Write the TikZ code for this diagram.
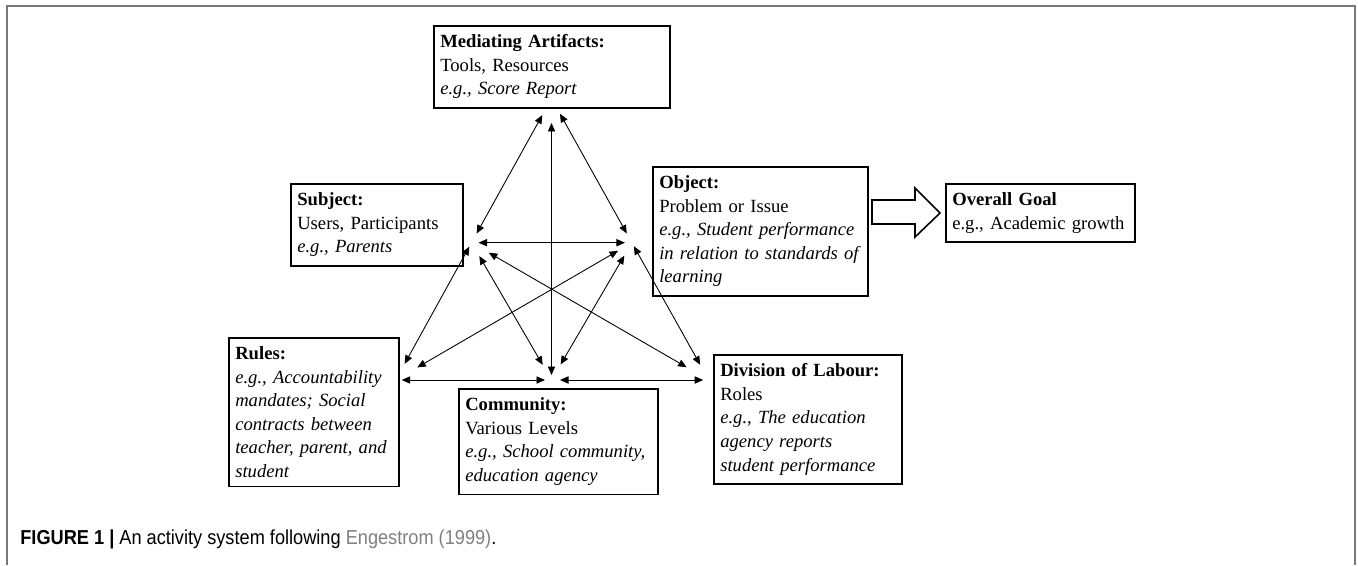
\documentclass[tikz,border=0pt]{standalone}
\usepackage{fontspec}
\setmainfont{Liberation Serif}
\newfontfamily\capfont[FakeStretch=0.9]{Liberation Sans}
\usepackage{xcolor}
\usepackage{tikz}
\usetikzlibrary{arrows.meta, calc}

\definecolor{framegray}{RGB}{120,120,120}
\definecolor{linkgray}{RGB}{128,128,128}

\tikzset{
  box/.style={draw, line width=0.9pt, align=left, anchor=north west,
    inner xsep=1.3mm, inner ysep=1.8mm, font=\fontsize{10.6}{13.4}\selectfont},
  link/.style={<->, line width=0.5pt},
}

\begin{document}
\begin{tikzpicture}[x=0.02cm, y=-0.02cm, >={Triangle[length=1.7mm, width=1.45mm]}]
    \useasboundingbox (0,0) rectangle (1358,565);
    \draw[framegray, line width=1.2pt] (7,565) -- (7,6) -- (1355,6) -- (1355,565);

    % boxes
    \node[box, text width=44.6mm] (med) at (433,25)
        {\textbf{Mediating Artifacts:}\\ Tools, Resources\\ \textit{e.g., Score Report}};
    \node[box, text width=31.8mm] (sub) at (290,183)
        {\textbf{Subject:}\\ Users, Participants\\ \textit{e.g., Parents}};
    \node[box, text width=40.4mm] (obj) at (652,166)
        {\textbf{Object:}\\ Problem or Issue\\ \textit{e.g., Student performance}\\
         \textit{in relation to standards of}\\ \textit{learning}};
    \node[box, text width=35.2mm] (goal) at (945,183)
        {\textbf{Overall Goal}\\ e.g., Academic growth};
    \node[box, text width=31.4mm] (rules) at (228,337)
        {\textbf{Rules:}\\ \textit{e.g., Accountability}\\ \textit{mandates; Social}\\
         \textit{contracts between}\\ \textit{teacher, parent, and}\\ \textit{student}};
    \node[box, text width=37.2mm] (com) at (458,388)
        {\textbf{Community:}\\ Various Levels\\ \textit{e.g., School community,}\\
         \textit{education agency}};
    \node[box, text width=35mm] (div) at (713,354)
        {\textbf{Division of Labour:}\\ Roles\\ \textit{e.g., The education}\\
         \textit{agency reports}\\ \textit{student performance}};

    % object to goal
    \draw[line width=0.9pt] ($(goal.west)+(-5,0)$) -- ++(-25,-25) -- ++(0,12) -- ++(-43,0)
        -- ++(0,24) -- ++(43,0) -- ++(0,13) -- cycle;

    % triangle
    \coordinate (hubT) at (551.5,98.5);
    \coordinate (hubS) at (471.5,242.7);
    \coordinate (hubO) at (631.9,242.7);
    \coordinate (hubR) at (395.7,380);
    \coordinate (hubC) at (551.5,380);
    \coordinate (hubD) at (708.7,380);
    \foreach \a/\b/\s/\e in {hubT/hubS/3.8/2.1, hubT/hubO/3.5/2.1, hubT/hubC/4.9/1.0,
        hubS/hubO/1.4/1.4, hubS/hubR/0.9/3.7, hubO/hubD/0.8/3.5,
        hubS/hubC/3.1/3.5, hubO/hubC/3.0/3.6, hubS/hubD/4.0/5.1,
        hubO/hubR/3.2/5.0, hubR/hubC/1.2/1.3, hubC/hubD/1.7/1.1}
        \draw[link, shorten <=\s mm, shorten >=\e mm] (\a) -- (\b);

    \node[anchor=base west, inner sep=0pt, font=\capfont\fontsize{11.5}{13}\selectfont] (cap) at (20,544)
        {\textbf{FIGURE 1 |} An activity system following \textcolor{linkgray}{Engestrom (1999)}.};
\end{tikzpicture}
\end{document}
